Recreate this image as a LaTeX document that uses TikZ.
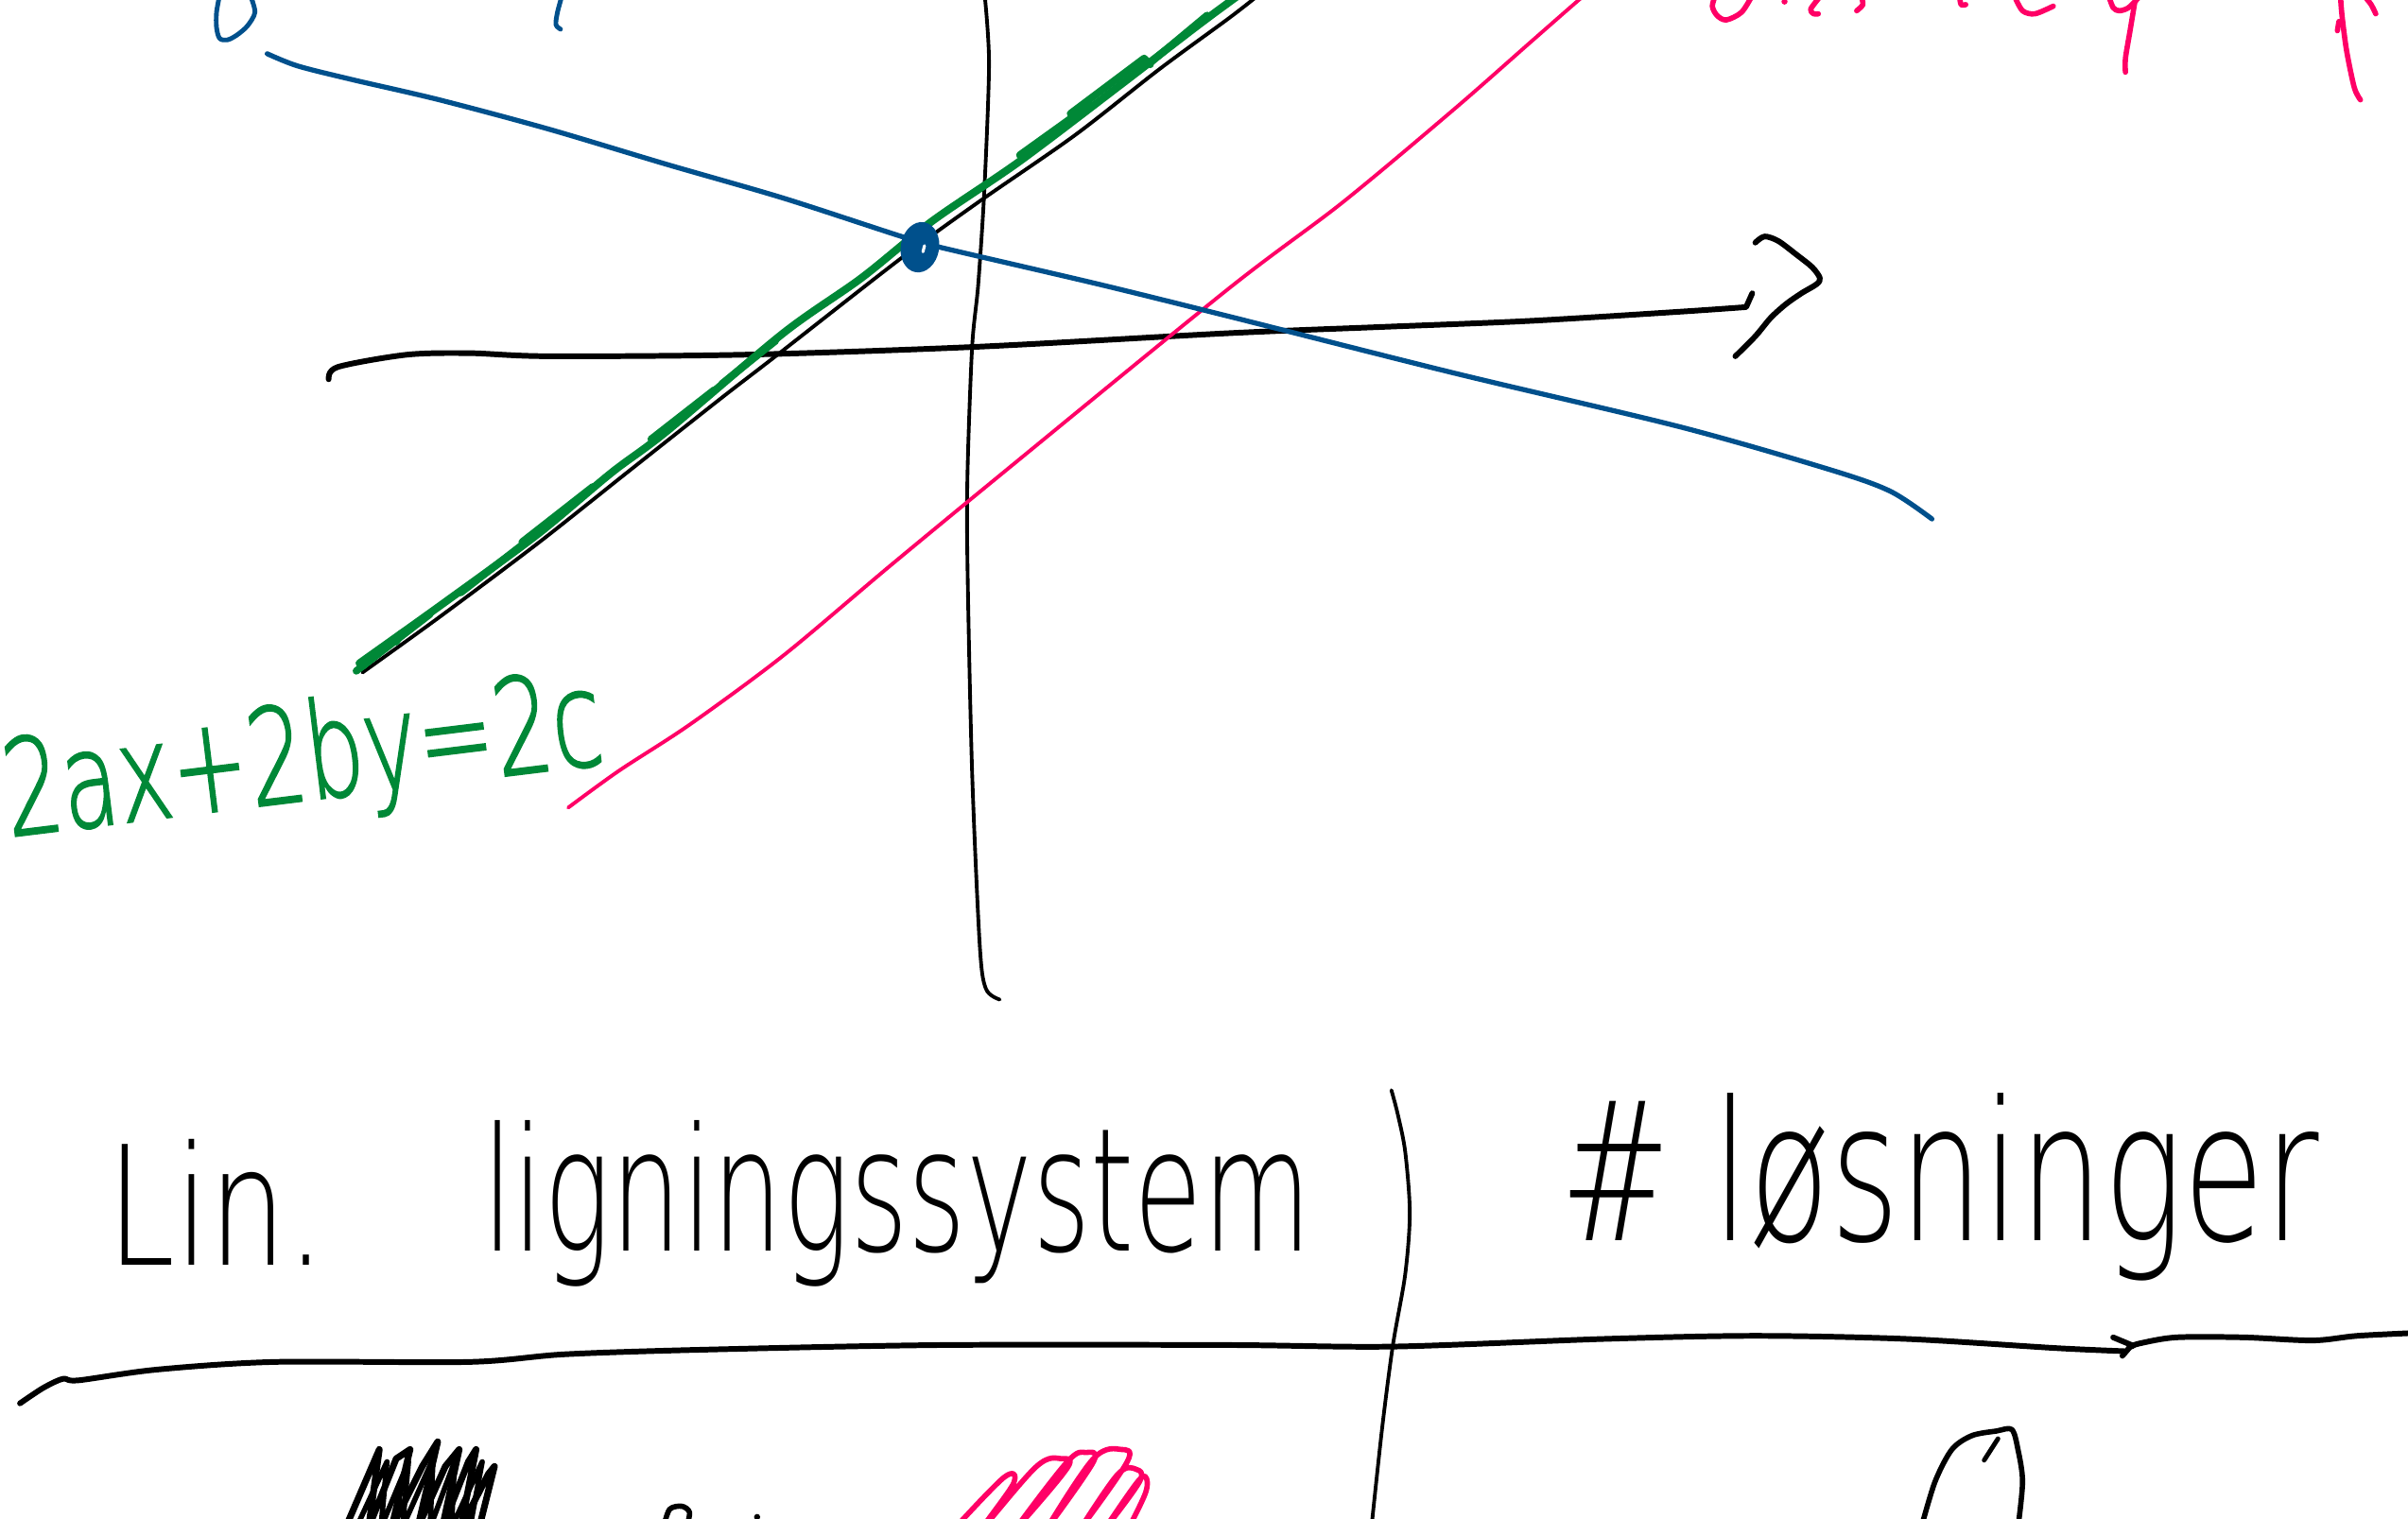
\documentclass[tikz,border=0pt]{standalone}
\usepackage{fontspec}
\usepackage{graphicx}
\newfontfamily\hand{DejaVu Sans ExtraLight}
\newfontfamily\handg{DejaVu Sans ExtraLight}[FakeBold=1.6]
\definecolor{pblue}{RGB}{0,80,140}
\definecolor{pgreen}{RGB}{0,136,55}
\definecolor{ppink}{RGB}{255,0,102}
\newlength\ux \setlength\ux{0.016244cm}
\newcommand\hw[3]{\resizebox{#1\ux}{#2\ux}{\hand #3}}
\newcommand\hwg[3]{\resizebox{#1\ux}{#2\ux}{\handg #3}}
\tikzset{
  pen/.style={line cap=round,line join=round},
  txt/.style={inner sep=0pt,outer sep=0pt,anchor=base west},
  axis/.style={pen,line width=1.1pt,black},
  thickaxis/.style={pen,line width=1.7pt,black},
  bluepen/.style={pen,line width=1.5pt,pblue},
  greenpen/.style={pen,line width=2.3pt,pgreen},
  pinkpen/.style={pen,line width=1.1pt,ppink},
  pinkfrag/.style={pen,line width=1.6pt,ppink},
  bluefrag/.style={pen,line width=1.4pt,pblue}
}
\begin{document}
\begin{tikzpicture}[x=0.016244cm,y=-0.016244cm]
\useasboundingbox (0,0) rectangle (1568,989);
\clip (0,0) rectangle (1568,989);
% ---------- upper plot ----------
% vertical axis
\draw[axis] plot[smooth] coordinates {(641,-5) (644,41) (641,123) (637,185) (633,226) (630,308) (630,369) (633,503) (638,616) (642,644) (651,651)};
% horizontal axis
\draw[thickaxis] plot[smooth] coordinates {(214,247) (220,239) (265,231) (306,230) (357,232) (485,231) (633,226) (800,217) (898,213) (996,209) (1094,203) (1137,200)} -- (1141,191);
% arrow head
\draw[thickaxis] plot[smooth] coordinates {(1143,158) (1149,154) (1158,157) (1170,166) (1180,174) (1185,181) (1183,185) (1173,191) (1163,198) (1153,207) (1143,219) (1130,232)};
% pink line
\draw[pinkpen] plot[smooth] coordinates {(370,526) (403,502) (449,472) (510,427) (579,369) (653,308) (800,188) (874,132) (947,71) (996,28) (1028,0) (1040,-10)};
% black diagonal
\draw[axis] plot[smooth] coordinates {(236,438) (286,402) (350,354) (408,308) (470,259) (505,232) (587,168) (638,131) (700,88) (755,45) (800,12) (818,-2)};
% green line
\draw[greenpen] plot[smooth] coordinates {(234,432) (290,392) (350,348) (398,308) (434,281) (510,217) (561,181) (607,144) (664,105) (730,55) (786,12) (830,-20)};
\begin{scope}[pen,line width=2.2pt,pgreen]
\draw (232,437) -- (280,400);
\draw (236,434) -- (262,412) -- (258,418);
\draw (300,386) -- (345,351);
\draw (340,353) -- (386,317);
\draw (424,286) -- (465,254);
\draw (470,250) -- (505,222);
\draw (664,101) -- (710,68);
\draw (697,74) -- (745,38) -- (749,42);
\draw (750,40) -- (786,10);
\end{scope}
% blue line
\draw[bluepen] plot[smooth] coordinates {(174,35) (194,43) (230,52) (286,65) (357,84) (434,107) (510,129) (587,154) (612,161) (715,185) (800,206) (947,243) (1094,278) (1192,306) (1231,320) (1258,338)};
% intersection dot
\fill[pblue,rotate around={-10:(599,161)}] (599,161) ellipse [x radius=12.5, y radius=16.5];
\draw[white,line width=0.9pt,line cap=round] (602,160) -- (601,164);
% blue fragments at top
\draw[bluefrag] plot[smooth] coordinates {(163,-3) (166,8) (161,17) (154,23) (148,26) (143,25) (141,18) (141,8) (143,-3)};
\draw[bluefrag] plot[smooth] coordinates {(366,-3) (363,8) (362,16) (365,19)};
% pink fragments at top
\draw[pinkfrag] plot[smooth] coordinates {(1141,-3) (1134,8) (1124,13) (1118,10) (1115,4) (1117,-3)};
\fill[ppink] (1162,1) circle [radius=2];
\draw[pinkfrag] plot[smooth] coordinates {(1185,-2) (1179,6) (1181,9) (1184,9)};
\draw[pinkfrag] plot[smooth] coordinates {(1212,-2) (1213,3) (1209,7)};
\draw[pinkfrag] plot[smooth] coordinates {(1276,-2) (1277,3) (1280,3)};
\draw[pinkfrag] plot[smooth] coordinates {(1312,-2) (1317,7) (1325,9) (1337,4)};
\draw[pinkfrag] plot[smooth] coordinates {(1373,-3) (1376,5) (1380,7) (1386,5) (1393,-2)};
\draw[pinkfrag] plot[smooth] coordinates {(1390,2) (1387,20) (1384,38) (1384,47)};
\draw[pinkfrag] plot[smooth] coordinates {(1524,-3) (1525,10) (1528,33) (1533,57) (1537,65)};
\draw[pinkfrag] plot[smooth] coordinates {(1540,-2) (1544,3) (1547,9)};
\draw[pinkfrag] (1523,14) -- (1522,20);
% equation label
\node[txt,rotate=7,text=pgreen] (eq) at (6,545) {\hwg{392}{66}{2ax+2by=2c}};
% ---------- table ----------
\node[txt] (lin) at (70,824) {\hw{142}{82}{Lin.}};
\node[txt] (lig) at (314,815) {\hw{540}{85}{ligningssystem}};
\node[txt] (los) at (1016,808) {\hw{494}{96}{\# løsninger}};
% column divider
\draw[axis] plot[smooth] coordinates {(906,710) (910,725) (915,750) (918,790) (915,830) (907,876) (900,930) (893,995)};
% header rule
\draw[thickaxis] plot[smooth] coordinates {(13,914) (28,904) (41,898) (51,899) (102,892) (179,887) (306,887) (368,882) (459,879) (613,876) (800,876) (907,877) (1045,872) (1143,870) (1241,872) (1339,878) (1383,880)};
\draw[thickaxis] (1376,871) -- (1388,876) -- (1382,883);
\draw[thickaxis] plot[smooth] coordinates {(1388,877) (1393,875) (1417,871) (1461,871) (1506,873) (1535,870) (1575,868)};
% black scribble
\draw[pen,line width=2pt] (225,995) -- (247,944) -- (240,995) -- (258,950) -- (267,944) -- (255,995) -- (275,955) -- (285,939) -- (272,995) -- (290,955) -- (299,944) -- (288,995) -- (305,952) -- (310,944) -- (300,995) -- (318,960) -- (322,955) -- (312,995);
\draw[pen,line width=1.6pt] (232,995) -- (252,952) -- (248,995) -- (266,952) -- (262,995) -- (282,950) -- (280,995) -- (296,952) -- (294,995) -- (314,952) -- (306,995);
% small black loop and dot
\draw[pen,line width=1.6pt] plot[smooth] coordinates {(432,995) (436,983) (444,981) (449,985) (447,995)};
\fill (493,988) circle [radius=2];
% pink scribble
\draw[pen,line width=1.6pt,ppink] plot[smooth,tension=0.6] coordinates {(622,995) (654,962) (660,966) (640,995) (675,955) (691,950) (695,956) (662,995) (695,952) (707,946) (712,952) (682,995) (712,950) (730,944) (734,952) (704,995) (728,960) (740,957) (742,965) (720,995) (740,966) (746,962) (746,972) (735,995)};
% black zero
\draw[pen,line width=1.6pt] plot[smooth] coordinates {(1251,995) (1260,965) (1271,944) (1284,935) (1300,932) (1310,931) (1314,944) (1317,965) (1314,995)};
\draw[pen,line width=1.4pt] (1301,937) -- (1292,951);
\end{tikzpicture}
\end{document}
